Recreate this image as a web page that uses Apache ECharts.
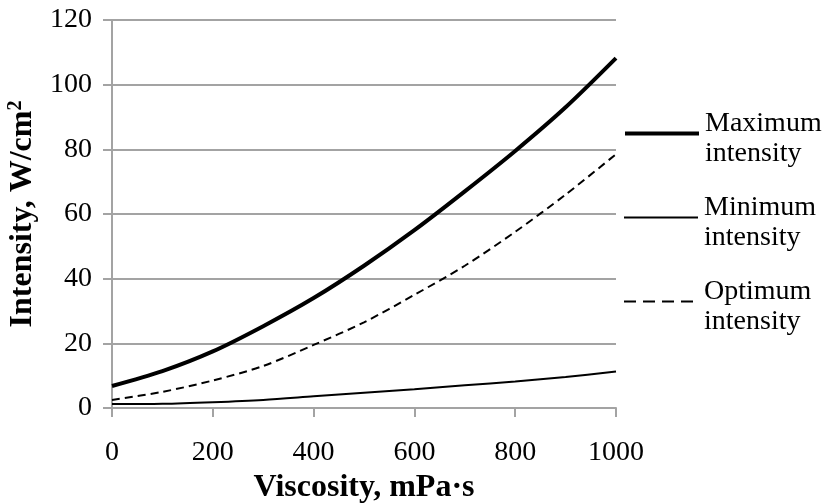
<!DOCTYPE html>
<html>
<head>
<meta charset="utf-8">
<script src="https://cdn.jsdelivr.net/npm/echarts@6/dist/echarts.min.js"></script>
<style>
  html, body { margin: 0; padding: 0; background: #fff; }
  #chart { width: 827px; height: 503px; }
</style>
</head>
<body>
<div id="chart"></div>
<script>
// Viscosity values (mPa·s) sampled along the x axis
const viscosity = [0, 100, 200, 300, 400, 500, 600, 700, 800, 900, 1000];
// Intensity series, W/cm²
const maximumIntensity = [6.8, 11.4, 17.5, 25.3, 34, 44, 55, 67, 79.5, 93, 108.2];
const minimumIntensity = [1.2, 1.3, 1.8, 2.5, 3.6, 4.7, 5.8, 7.0, 8.2, 9.6, 11.3];
const optimumIntensity = [2.5, 5.0, 8.5, 13, 19.5, 26.5, 35, 44, 54.5, 66, 78.5];
const seriesNames = ['Maximum\nintensity', 'Minimum\nintensity', 'Optimum\nintensity'];
const xTicks = { min: 0, max: 1000, step: 200 };
const yTicks = { min: 0, max: 120, step: 20 };

const serif = '"Liberation Serif", "Times New Roman", serif';
const gridGrey = '#a3a3a3';

function pairs(ys) {
  return viscosity.map((v, i) => [v, ys[i]]);
}

// One legend block per series so each key can sit at its own height
const legendLines = [
  { width: 4, color: '#000', type: 'solid' },
  { width: 2, color: '#000', type: 'solid' },
  { width: 2, color: '#000', type: [12, 7] }
];
const legendTops = [84, 168, 252];
const legendFont = { fontFamily: serif, fontSize: 28, lineHeight: 33, color: '#000' };

function legendBlock(i) {
  return {
    orient: 'vertical',
    left: 618,
    top: legendTops[i],
    itemWidth: 74,
    itemHeight: 12,
    itemStyle: { opacity: 0 },
    // first line gets extra room above it and a thin spacer row separates the two words
    formatter: name => '{a|' + name.split('\n').join('}\n{s| }\n{b|') + '}',
    textStyle: {
      ...legendFont,
      padding: [0, 0, 0, 1],
      rich: {
        a: { ...legendFont, padding: [21, 0, 0, 0] },
        s: { fontFamily: serif, fontSize: 7, lineHeight: 7, color: '#000' },
        b: { ...legendFont }
      }
    },
    data: [{ name: seriesNames[i], lineStyle: legendLines[i], itemStyle: { opacity: 0 } }]
  };
}

const chart = echarts.init(document.getElementById('chart'), null, { renderer: 'canvas' });

chart.setOption({
  backgroundColor: '#ffffff',
  animation: false,
  grid: { left: 112, right: 211, top: 20, bottom: 95, containLabel: false, outerBoundsMode: 'none' },
  legend: [legendBlock(0), legendBlock(1), legendBlock(2)],
  xAxis: {
    type: 'value',
    min: xTicks.min,
    max: xTicks.max,
    interval: xTicks.step,
    name: 'Viscosity, mPa·s',
    nameLocation: 'middle',
    nameGap: 64,
    nameTextStyle: { fontFamily: serif, fontSize: 32, fontWeight: 'bold', color: '#000' },
    axisLine: { show: true, onZero: false, lineStyle: { color: gridGrey, width: 2 } },
    axisTick: { show: true, inside: false, length: 9, lineStyle: { color: gridGrey, width: 2 } },
    axisLabel: { margin: 31, fontFamily: serif, fontSize: 28, color: '#000', formatter: v => String(v) },
    splitLine: { show: false }
  },
  yAxis: {
    type: 'value',
    min: yTicks.min,
    max: yTicks.max,
    interval: yTicks.step,
    name: 'Intensity, W/cm{sup|2}',
    nameLocation: 'middle',
    nameRotate: 90,
    nameGap: 67,
    nameTextStyle: {
      fontFamily: serif, fontSize: 32, fontWeight: 'bold', color: '#000',
      rich: {
        sup: { fontFamily: serif, fontSize: 20, fontWeight: 'bold', color: '#000', verticalAlign: 'top', padding: [0, 0, 14, 0] }
      }
    },
    axisLine: { show: true, lineStyle: { color: gridGrey, width: 2 } },
    axisTick: { show: true, inside: false, length: 9, lineStyle: { color: gridGrey, width: 2 } },
    axisLabel: { margin: 20, fontFamily: serif, fontSize: 28, color: '#000', formatter: v => String(v) },
    splitLine: { show: true, lineStyle: { color: gridGrey, width: 2 } }
  },
  series: [
    {
      name: seriesNames[0], type: 'line', data: pairs(maximumIntensity),
      smooth: 0.3, showSymbol: false, symbol: 'none',
      itemStyle: { color: '#000' },
      lineStyle: { color: '#000', width: 4 }
    },
    {
      name: seriesNames[1], type: 'line', data: pairs(minimumIntensity),
      smooth: 0.3, showSymbol: false, symbol: 'none',
      itemStyle: { color: '#000' },
      lineStyle: { color: '#000', width: 2 }
    },
    {
      name: seriesNames[2], type: 'line', data: pairs(optimumIntensity),
      smooth: 0.3, showSymbol: false, symbol: 'none',
      itemStyle: { color: '#000' },
      lineStyle: { color: '#000', width: 2, type: [8, 5] }
    }
  ]
});
</script>
</body>
</html>
